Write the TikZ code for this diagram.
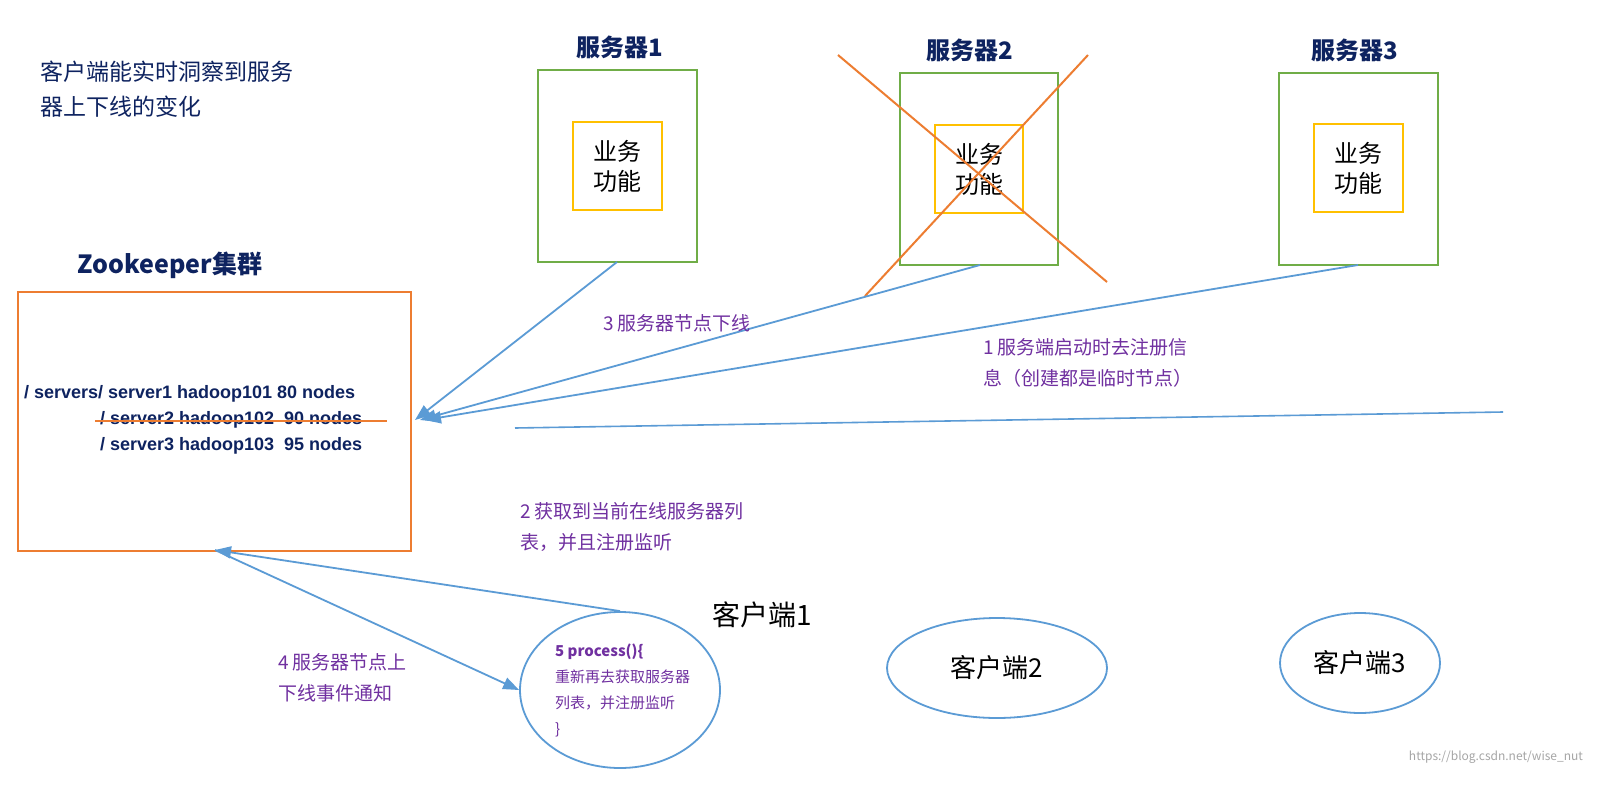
\documentclass[tikz,border=0pt]{standalone}
\usepackage{fontspec}
\setmainfont{Noto Sans CJK SC}
\newfontfamily\arialf{Liberation Sans}
\usetikzlibrary{arrows.meta,shapes.geometric}
\definecolor{cblue}{HTML}{5B9BD5}
\definecolor{cgreen}{HTML}{70AD47}
\definecolor{cyel}{HTML}{FFC000}
\definecolor{corange}{HTML}{ED7D31}
\definecolor{cnavy}{HTML}{0E2360}
\definecolor{cpurple}{HTML}{7030A0}
\begin{document}
\begin{tikzpicture}[x=0.5pt,y=-0.5pt,
  srv/.style={draw=cgreen,line width=1pt},
  biz/.style={draw=cyel,line width=1pt,align=center,font=\fontsize{12}{15}\selectfont},
  ttl/.style={text=cnavy,font=\fontsize{12}{14}\selectfont\bfseries},
  lbl/.style={text=cpurple,align=left,anchor=west,font=\fontsize{9.5}{15.5}\selectfont},
  arr/.style={draw=cblue,line width=0.9pt,-{Triangle[length=8pt,width=6pt]}},
  cli/.style={draw=cblue,line width=0.9pt,ellipse},
  zk/.style={text=cnavy,anchor=west,font=\arialf\fontsize{9}{11}\selectfont\bfseries}]
\fill[white] (0,0) rectangle (1600,787);
\useasboundingbox (0,0) rectangle (1600,787);
\begin{scope}[overlay]
\node[anchor=west,align=left,text=cnavy,font=\fontsize{11.5}{17.5}\selectfont] (intro) at (33,89) {客户端能实时洞察到服务\\器上下线的变化};
% servers
\draw[srv] (538,70) rectangle (697,262);
\draw[srv] (900,73) rectangle (1058,265);
\draw[srv] (1279,73) rectangle (1438,265);
\coordinate (s1b) at (617,262); \coordinate (s2b) at (980,265); \coordinate (s3b) at (1358,265);
\node[ttl] (t1) at (620,47) {服务器1};
\node[ttl] (t2) at (970,50) {服务器2};
\node[ttl] (t3) at (1355,50) {服务器3};
\node[biz,minimum width=44.5pt,minimum height=44pt] (b1) at (617.5,166) {业务\\功能};
\node[biz,minimum width=44pt,minimum height=44pt] (b2) at (979,169) {业务\\功能};
\node[biz,minimum width=44.5pt,minimum height=44pt] (b3) at (1358.5,168) {业务\\功能};
\draw[corange,line width=1pt] (838,55) -- (1107,282);
\draw[corange,line width=1pt] (1088,55) -- (865,296);
% zookeeper
\node[ttl,font=\fontsize{12.5}{14}\selectfont\bfseries] (zkt) at (170,265) {Zookeeper集群};
\draw[corange,line width=1pt] (18,292) rectangle (411,551);
\coordinate (zkbot) at (215,550);
\node[zk] (l1) at (17,394) {/ servers/ server1 hadoop101 80 nodes};
\node[zk] (l2) at (93,420) {/ server2 hadoop102 \ 90 nodes};
\node[zk] (l3) at (93,446) {/ server3 hadoop103 \ 95 nodes};
\draw[corange,line width=1pt] (95,421) -- (387,421);
% arrows
\coordinate (z1) at (415,420); \coordinate (z2) at (420,420); \coordinate (z3) at (425,420);
\draw[arr] (s1b) -- (z1);
\draw[arr] (s2b) -- (z2);
\draw[arr] (s3b) -- (z3);
\coordinate (hl1) at (515,428); \coordinate (hl2) at (1503,412);
\draw[cblue,line width=0.8pt] (hl1) -- (hl2);
\node[lbl] (n3) at (596,323) {3 服务器节点下线};
\node[lbl] (n1) at (976,363) {1 服务端启动时去注册信\\息（创建都是临时节点）};
\node[lbl] (n2) at (513,527) {2 获取到当前在线服务器列\\表，并且注册监听};
\node[lbl] (n4) at (271,678) {4 服务器节点上\\下线事件通知};
% clients
\node[cli,minimum width=100pt,minimum height=78pt] (c1) at (620,690) {};
\node[anchor=west,align=left,text=cpurple,font=\fontsize{7.5}{13}\selectfont] (c1t) at (548,690) {\textbf{5 process()\{}\\重新再去获取服务器\\列表，并注册监听\\\}};
\node[font=\fontsize{14}{16}\selectfont] (c1l) at (762,615) {客户端1};
\node[cli,minimum width=110pt,minimum height=50pt,font=\fontsize{13}{15}\selectfont] (c2) at (997,668) {客户端2};
\node[cli,minimum width=80pt,minimum height=50pt,font=\fontsize{13}{15}\selectfont] (c3) at (1360,663) {客户端3};
\draw[arr] (c1.north) -- (zkbot);
\draw[arr] (zkbot) -- (c1.west);
\node[text=gray!70,font=\fontsize{6}{7}\selectfont,anchor=east] (wm) at (1590,757) {https://blog.csdn.net/wise\_nut};
\end{scope}
\end{tikzpicture}
\end{document}
